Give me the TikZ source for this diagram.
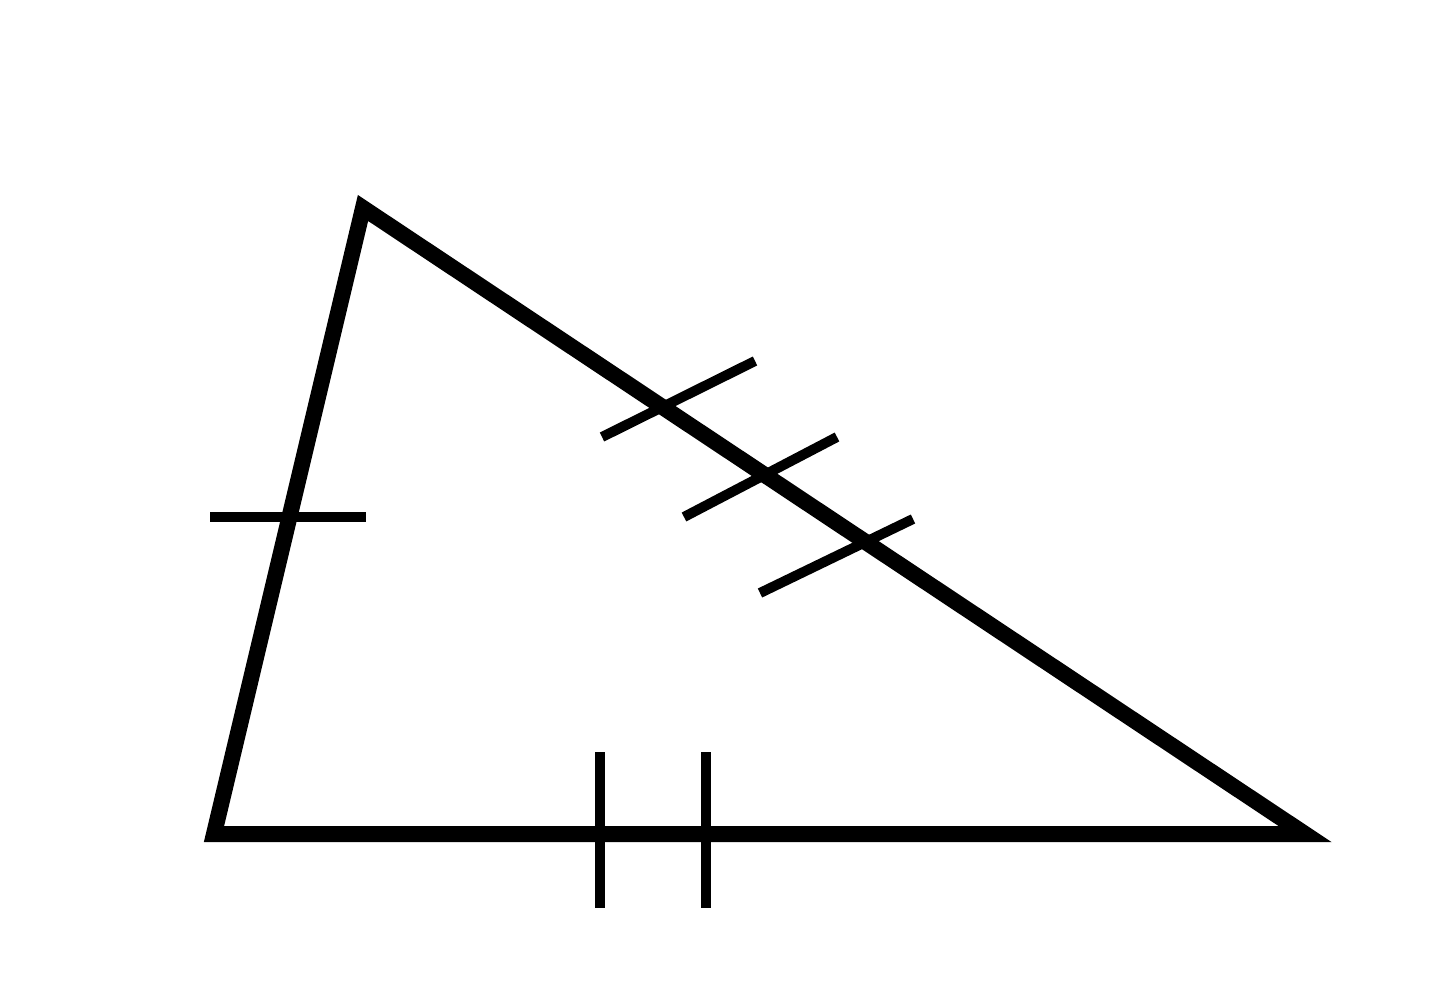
\documentclass[tikz,border=0pt]{standalone}
\usepackage{tikz}
\usetikzlibrary{calc}

\begin{document}
\begin{tikzpicture}[x=1cm, y=-1cm]
			%%%%% START %%%%%
			\useasboundingbox (0, 0) rectangle (14.4, 10.02);
			
			\coordinate (apex) at (3.63, 2.08);
			\coordinate (left) at (2.14, 8.34);
			\coordinate (right) at (13.05, 8.34);
			
			\draw[line width=1.6mm, color=black] (apex) -- (left) -- (right) -- cycle;
			
			\draw[line width=1mm, color=black] (2.10, 5.17) -- (3.66, 5.17);
			
			\draw[line width=1mm, color=black] (6.00, 7.52) -- (6.00, 9.08);
			\draw[line width=1mm, color=black] (7.06, 7.52) -- (7.06, 9.08);
			
			\draw[line width=1mm, color=black] (6.02, 4.37) -- (7.55, 3.61);
			\draw[line width=1mm, color=black] (6.84, 5.17) -- (8.37, 4.37);
			\draw[line width=1mm, color=black] (7.60, 5.93) -- (9.13, 5.19);
			
			%%%%% END %%%%%
		\end{tikzpicture}
\end{document}
